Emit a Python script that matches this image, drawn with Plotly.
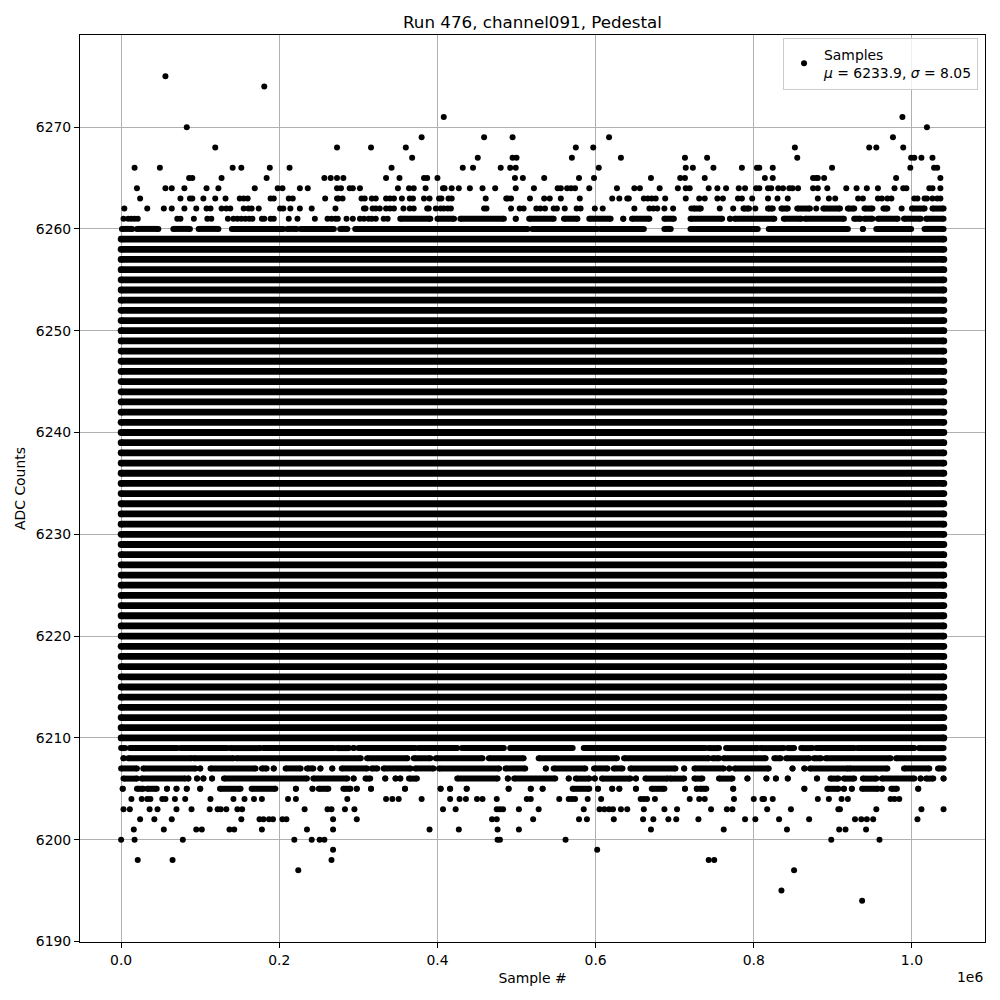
import plotly.graph_objects as go

# ADC levels hit all through the run (sample 0 .. last_sample)
full_levels = [6210, 6211, 6212, 6213, 6214, 6215, 6216, 6217, 6218, 6219,
               6220, 6221, 6222, 6223, 6224, 6225, 6226, 6227, 6228, 6229,
               6230, 6231, 6232, 6233, 6234, 6235, 6236, 6237, 6238, 6239,
               6240, 6241, 6242, 6243, 6244, 6245, 6246, 6247, 6248, 6249,
               6250, 6251, 6252, 6253, 6254, 6255, 6256, 6257, 6258, 6259]
last_sample = 1_040_400

# partly filled levels: visible runs (first, last), in thousands of samples
run_levels = [6262, 6261, 6260, 6209, 6208, 6207, 6206, 6205]
run_spans = [
    [(724, 733), (787, 794), (818, 824), (835, 843), (855, 871), (888, 909), (919, 927),
     (940, 950), (964, 969), (1000, 1016), (1026, 1040)],
    [(353, 391), (400, 421), (429, 484), (499, 499), (516, 547), (560, 577), (592, 619),
     (635, 635), (646, 668), (687, 699), (720, 760), (770, 770), (776, 826), (838, 860),
     (865, 914), (927, 935), (940, 950), (957, 982), (990, 1011), (1018, 1040)],
    [(1, 14), (20, 47), (66, 87), (98, 123), (140, 205), (210, 222), (227, 269), (277, 286),
     (296, 514), (520, 602), (606, 661), (687, 695), (720, 805), (819, 919), (938, 938),
     (955, 999), (1016, 1040)],
    [(0, 5), (11, 71), (75, 134), (138, 176), (180, 269), (273, 288), (294, 294), (300, 372),
     (376, 425), (431, 484), (492, 571), (585, 739), (743, 756), (765, 805), (809, 838),
     (843, 851), (860, 874), (879, 927), (931, 1003), (1009, 1040)],
    [(3, 3), (9, 89), (92, 142), (146, 303), (311, 362), (370, 391), (398, 457), (465, 509),
     (528, 627), (636, 743), (748, 756), (762, 815), (826, 834), (841, 870), (876, 885),
     (891, 973), (980, 1040)],
    [(0, 20), (28, 94), (100, 100), (113, 170), (178, 184), (193, 193), (208, 227), (235, 243),
     (252, 252), (267, 267), (279, 311), (317, 324), (332, 366), (372, 395), (402, 478),
     (486, 511), (537, 537), (547, 587), (598, 615), (623, 634), (644, 701), (712, 712),
     (725, 762), (769, 769), (776, 819), (849, 849), (864, 864), (871, 919), (921, 969),
     (990, 1022), (1033, 1040)],
    [(3, 20), (26, 81), (85, 85), (96, 96), (104, 104), (115, 115), (130, 235), (243, 286),
     (294, 294), (309, 315), (334, 334), (347, 347), (353, 353), (364, 374), (425, 476),
     (489, 489), (497, 549), (566, 566), (575, 592), (599, 599), (608, 644), (651, 651),
     (663, 691), (694, 712), (725, 735), (756, 773), (792, 792), (816, 816), (828, 828),
     (843, 843), (880, 880), (897, 907), (914, 927), (938, 955), (962, 1003), (1011, 1011),
     (1018, 1027), (1040, 1040)],
    [(2, 2), (20, 28), (33, 45), (58, 58), (70, 70), (83, 83), (100, 100), (125, 151),
     (165, 195), (221, 221), (242, 242), (250, 262), (281, 290), (298, 298), (316, 316),
     (359, 359), (404, 404), (416, 416), (437, 437), (490, 490), (518, 518), (533, 533),
     (571, 592), (603, 603), (621, 621), (630, 630), (651, 651), (671, 687), (713, 713),
     (728, 728), (732, 740), (774, 774), (864, 864), (893, 907), (914, 914), (924, 924),
     (937, 957), (962, 962), (974, 981), (1008, 1008)],
]

# isolated samples, in thousands of samples
dot_levels = [6275, 6274, 6271, 6270, 6269, 6268, 6267, 6266, 6265, 6264, 6263, 6262, 6261,
              6204, 6203, 6202, 6201, 6200, 6199, 6198, 6197, 6195, 6194]
dot_x = [
    [56],
    [181],
    [408, 988],
    [83, 1019],
    [380, 459, 495, 617, 976],
    [119, 273, 316, 360, 575, 597, 852, 946, 955, 989],
    [368, 451, 495, 500, 570, 632, 713, 741, 855, 999, 1003, 1012, 1026],
    [17, 49, 141, 152, 188, 213, 342, 432, 445, 480, 492, 499, 604, 714, 723, 749, 785, 804,
     807, 824, 899, 998, 1028, 1032],
    [86, 90, 127, 184, 257, 265, 273, 281, 335, 352, 383, 387, 400, 498, 508, 535, 579, 598,
     670, 707, 713, 738, 814, 824, 875, 879, 881, 889, 980, 1036],
    [20, 56, 64, 80, 108, 123, 169, 198, 204, 226, 236, 273, 278, 289, 293, 302, 350, 364,
     370, 385, 407, 409, 418, 427, 441, 457, 473, 499, 522, 552, 556, 564, 569, 574, 592,
     627, 649, 656, 681, 704, 714, 719, 743, 754, 765, 781, 789, 803, 807, 818, 822, 831,
     837, 845, 849, 856, 875, 881, 893, 917, 930, 943, 957, 978, 989, 993, 1022, 1026, 1036],
    [24, 75, 87, 90, 104, 119, 132, 150, 155, 160, 189, 193, 212, 217, 258, 273, 275, 280,
     304, 308, 317, 322, 335, 340, 345, 355, 365, 369, 383, 390, 402, 405, 414, 418, 461,
     487, 489, 493, 517, 535, 542, 556, 580, 621, 630, 640, 642, 661, 666, 671, 676, 688,
     714, 731, 738, 754, 761, 780, 785, 798, 818, 830, 843, 881, 895, 903, 932, 938, 957,
     962, 969, 974, 1003, 1007, 1016, 1019, 1026, 1032, 1036],
    [4, 33, 54, 64, 80, 95, 108, 113, 127, 133, 138, 155, 161, 165, 174, 201, 205, 214, 226,
     241, 271, 307, 309, 318, 322, 327, 335, 340, 345, 357, 365, 370, 387, 389, 398, 404,
     408, 413, 417, 459, 462, 493, 504, 509, 525, 530, 536, 547, 551, 561, 576, 581, 599,
     609, 649, 668, 673, 678, 687, 698, 721, 757, 774, 802, 879, 987],
    [3, 9, 13, 17, 21, 71, 75, 92, 109, 114, 135, 142, 147, 152, 157, 162, 166, 178, 181,
     189, 193, 212, 223, 245, 261, 266, 271, 274, 285, 293, 302, 307, 313, 317, 322, 332, 337],
    [13, 26, 33, 37, 52, 56, 68, 81, 113, 142, 156, 168, 178, 211, 221, 286, 335, 343, 351,
     380, 416, 428, 436, 450, 457, 475, 513, 518, 554, 566, 570, 574, 590, 607, 657, 661,
     665, 675, 719, 731, 738, 775, 800, 811, 813, 824, 881, 895, 911, 919, 973, 978, 984],
    [3, 11, 36, 46, 70, 89, 112, 122, 126, 133, 147, 153, 232, 261, 266, 283, 295, 407, 423,
     475, 479, 483, 503, 528, 585, 605, 611, 617, 622, 632, 640, 661, 687, 703, 746, 766,
     773, 817, 847, 907, 909, 955, 1012, 1040],
    [24, 42, 64, 152, 175, 180, 187, 192, 204, 209, 268, 298, 469, 475, 521, 579, 589, 623,
     660, 673, 692, 702, 730, 789, 802, 832, 870, 928, 936, 943, 951, 1007],
    [16, 54, 95, 102, 137, 143, 178, 235, 268, 390, 427, 476, 503, 670, 762, 842, 908, 916, 942],
    [0, 17, 78, 219, 241, 251, 257, 476, 479, 562, 898, 959],
    [268, 602],
    [21, 65, 266, 743, 750],
    [224, 851],
    [835],
    [937],
]

x_ticks = [0, 200_000, 400_000, 600_000, 800_000, 1_000_000]
x_tick_text = ["0.0", "0.2", "0.4", "0.6", "0.8", "1.0"]

FONT = "DejaVu Sans"
DOT = 6.0
BAND = 6.8


def runs_to_xy(levels, spans):
    xs, ys = [], []
    for lvl, row in zip(levels, spans):
        for a, b in row:
            xs += [a * 1000, b * 1000, None]
            ys += [lvl, lvl, None]
    return xs, ys


fig = go.Figure()

# solid bands: many samples on the same ADC level merge into one stripe
full_x, full_y = runs_to_xy(full_levels, [[(0, last_sample / 1000)]] * len(full_levels))
part_x, part_y = runs_to_xy(run_levels, run_spans)
for xs, ys, w in [(full_x, full_y, BAND), (part_x, part_y, DOT)]:
    fig.add_trace(go.Scatter(
        x=xs, y=ys, mode="lines+markers",
        line=dict(color="black", width=w),
        marker=dict(color="black", size=w),
        showlegend=False, hoverinfo="skip",
    ))

px, py = [], []
for lvl, row in zip(dot_levels, dot_x):
    px += [v * 1000 for v in row]
    py += [lvl] * len(row)
fig.add_trace(go.Scatter(
    x=px, y=py, mode="markers",
    marker=dict(color="black", size=DOT),
    name="Samples<br><i>μ</i> = 6233.9, <i>σ</i> = 8.05",
))

x_pad = 0.05 * last_sample
y_lo, y_hi = min(dot_levels), max(dot_levels)
y_pad = 0.05 * (y_hi - y_lo)

axis_style = dict(
    showline=True, mirror=True, linecolor="black", linewidth=1,
    ticks="outside", ticklen=5, tickwidth=1, tickcolor="black",
    showgrid=True, gridcolor="#b0b0b0", gridwidth=1, zeroline=False,
    automargin=False,
    tickfont=dict(family=FONT, size=13.9, color="black"),
)

fig.update_layout(
    width=1000, height=1000,
    margin=dict(l=72, r=23, t=27, b=66),
    paper_bgcolor="white", plot_bgcolor="white",
    font=dict(family=FONT, size=13.9, color="black"),
    title=dict(text="Run 476, channel091, Pedestal", xref="paper", x=0.5, xanchor="center",
               y=0.986, yanchor="middle", font=dict(family=FONT, size=16.7, color="black")),
    xaxis=dict(range=[-x_pad, last_sample + x_pad], tickvals=x_ticks, ticktext=x_tick_text,
               title=dict(text="Sample #", standoff=6, font=dict(family=FONT, size=13.9)),
               **axis_style),
    yaxis=dict(range=[y_lo - y_pad, y_hi + y_pad], tick0=6190, dtick=10,
               title=dict(text="ADC Counts", standoff=6, font=dict(family=FONT, size=13.9)),
               **axis_style),
    legend=dict(x=0.9923, xanchor="right", y=0.997, yanchor="top",
                bgcolor="rgba(255,255,255,0.8)", bordercolor="#cccccc", borderwidth=1,
                font=dict(family=FONT, size=13.9, color="black")),
    annotations=[dict(text="1e6", xref="paper", yref="paper", x=1, xanchor="right",
                      y=-0.0386, yanchor="middle", showarrow=False,
                      font=dict(family=FONT, size=13.9, color="black"))],
)

fig.write_html("out.html")
